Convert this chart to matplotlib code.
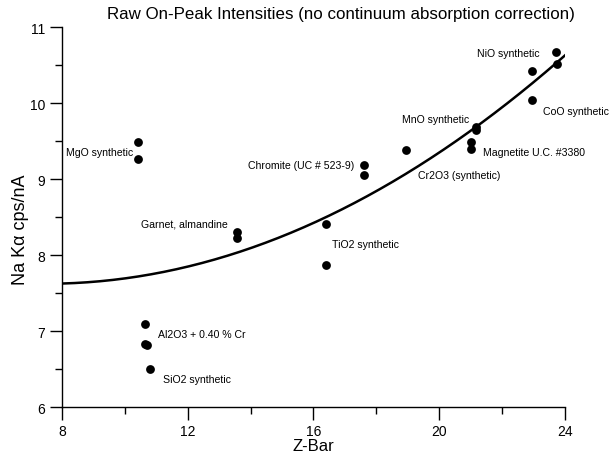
import numpy as np
import matplotlib
matplotlib.use("Agg")
import matplotlib.pyplot as plt

plt.rcParams['font.family'] = ['Liberation Sans', 'DejaVu Sans']

# mean atomic number of each standard and its measured Na Ka intensity
zbar = [10.41, 10.41,
        10.65, 10.65, 10.70,
        10.80,
        13.57, 13.57,
        16.39, 16.39,
        17.60, 17.60,
        18.95,
        21.02, 21.02,
        21.17, 21.17,
        22.94, 22.94,
        23.72, 23.76]
cps = [9.49, 9.26,
       7.09, 6.83, 6.82,
       6.50,
       8.30, 8.22,
       8.41, 7.87,
       9.18, 9.05,
       9.38,
       9.49, 9.39,
       9.68, 9.64,
       10.42, 10.04,
       10.67, 10.51]

# standard names and where their labels sit (data coords, left edge)
names = ["MgO synthetic", "Garnet, almandine", "Al2O3 + 0.40 % Cr", "SiO2 synthetic",
         "Chromite (UC # 523-9)", "TiO2 synthetic", "MnO synthetic", "Cr2O3 (synthetic)",
         "Magnetite U.C. #3380", "NiO synthetic", "CoO synthetic"]
name_x = [8.13, 10.51, 11.05, 11.21, 13.92, 16.59, 18.81, 19.32, 21.39, 21.20, 23.30]
name_y = [9.36, 8.41, 6.96, 6.37, 9.18, 8.14, 9.79, 9.05, 9.36, 10.66, 9.89]

fit_range = (8.0, 24.1)

fig = plt.figure(figsize=(6.1, 4.6), dpi=100)
ax = fig.add_axes([0.1016, 0.113, 0.8246, 0.826])

ax.scatter(zbar, cps, s=40, color='black', zorder=3, linewidths=0)

# second order polynomial trend through all standards
coef = np.polyfit(zbar, cps, 2)
xs = np.linspace(fit_range[0], fit_range[1], 200)
ax.plot(xs, np.polyval(coef, xs), color='black', lw=1.8)

for n, x, y in zip(names, name_x, name_y):
    ax.text(x, y, n, fontsize=7.6, ha='left', va='center')

ax.set_xlim(8, 24)
ax.set_ylim(6, 11)
ax.set_xticks([8, 12, 16, 20, 24])
ax.set_xticks([10, 14, 18, 22], minor=True)
ax.set_yticks([6, 7, 8, 9, 10, 11])
ax.set_yticks([6.5, 7.5, 8.5, 9.5, 10.5], minor=True)
ax.tick_params(which='major', direction='out', length=9, width=1, labelsize=10, pad=3)
ax.tick_params(which='minor', direction='out', length=5, width=1)
for s in ['top', 'right']:
    ax.spines[s].set_visible(False)
for s in ['left', 'bottom']:
    ax.spines[s].set_linewidth(1)

ax.set_xlabel('Z-Bar', fontsize=12, labelpad=0)
ax.set_ylabel('Na K\u03b1 cps/nA', fontsize=13)
ax.yaxis.set_label_coords(-0.066, 0.47)
fig.text(341 / 610, 1 - 15 / 460,
         'Raw On-Peak Intensities (no continuum absorption correction)',
         fontsize=12.2, ha='center', va='center')

fig.savefig('out.png', dpi=100)
